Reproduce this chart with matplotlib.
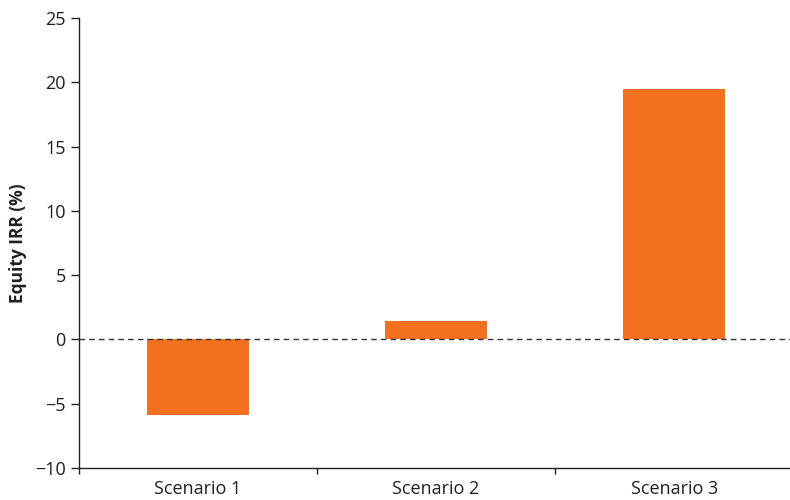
import matplotlib.pyplot as plt
from matplotlib.ticker import FixedLocator

plt.rcParams['font.family'] = ['Open Sans', 'DejaVu Sans']

scenarios = ['Scenario 1', 'Scenario 2', 'Scenario 3']
irr = [-5.9, 1.4, 19.5]
yticks = [-10, -5, 0, 5, 10, 15, 20, 25]
ytick_labels = ['\u221210', '\u22125', '0', '5', '10', '15', '20', '25']

fig = plt.figure(figsize=(7.9, 5), dpi=100)
ax = fig.add_axes([0.1, 0.064, 0.904, 0.9])

x = list(range(len(scenarios)))
ax.bar(x, irr, width=0.43, color='#F37021')
ax.axhline(0, color='#333333', linestyle=(0, (4, 3)), linewidth=1)

ax.set_xlim(-0.5, 2.5)
ax.set_ylim(-10, 25)
ax.set_yticks(yticks)
ax.set_yticklabels(ytick_labels, fontsize=13, color='#231f20')
ax.set_xticks(x)
ax.set_xticklabels(scenarios, fontsize=13, color='#231f20')
ax.tick_params(axis='x', which='major', length=0, pad=9)
ax.xaxis.set_minor_locator(FixedLocator([-0.5, 0.5, 1.5]))
ax.tick_params(axis='x', which='minor', length=4, width=1, color='#231f20')
ax.tick_params(axis='y', length=6, width=1, color='#231f20')

ax.set_ylabel('Equity IRR (%)', fontsize=12.5, fontweight='bold', color='#231f20',
              labelpad=6)

for s in ['top', 'right']:
    ax.spines[s].set_visible(False)
for s in ['left', 'bottom']:
    ax.spines[s].set_color('#231f20')
    ax.spines[s].set_linewidth(1)

fig.savefig('out.png', dpi=100)
